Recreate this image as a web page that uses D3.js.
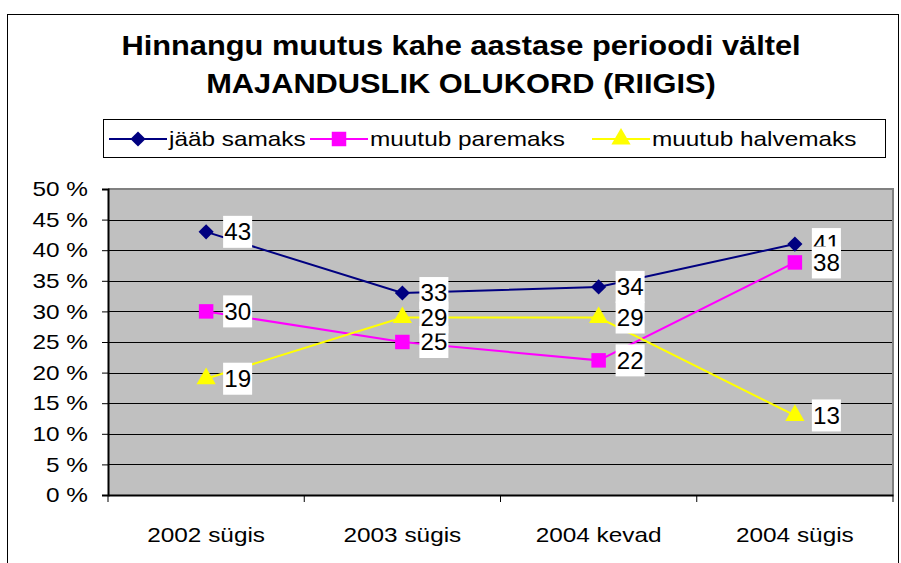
<!DOCTYPE html>
<html>
<head>
<meta charset="utf-8">
<script src="https://cdn.jsdelivr.net/npm/d3@7"></script>
<style>
  body { margin: 0; background: #fff; }
  text { font-family: Arial, "Liberation Sans", sans-serif; }
</style>
</head>
<body>
<div id="chart"></div>
<script>
const categories = ["2002 sügis", "2003 sügis", "2004 kevad", "2004 sügis"];
const seriesNames = ["jääb samaks", "muutub paremaks", "muutub halvemaks"];
const samaks = [43, 33, 34, 41];
const paremaks = [30, 25, 22, 38];
const halvemaks = [19, 29, 29, 13];
const yTicks = [0, 5, 10, 15, 20, 25, 30, 35, 40, 45, 50];
const titleLines = ["Hinnangu muutus kahe aastase perioodi vältel", "MAJANDUSLIK OLUKORD (RIIGIS)"];

const colors = ["#000080", "#FF00FF", "#FFFF00"];
const symbols = [d3.symbolSquare, d3.symbolSquare, d3.symbolTriangle];
const symSizes = [115, 210, 160];
const symRotate = [45, 0, 0];
const series = [samaks, paremaks, halvemaks].map((v, i) => ({
  name: seriesNames[i], values: v, color: colors[i],
  symbol: symbols[i], size: symSizes[i], rot: symRotate[i]
}));

const width = 901, height = 563;
const sx = 1.16; // text in the original is rendered wide

const svg = d3.select("#chart").append("svg")
  .attr("width", width)
  .attr("height", height);

// outer chart border
svg.append("rect")
  .attr("x", 7.5).attr("y", 14.5)
  .attr("width", 891).attr("height", 560)
  .attr("fill", "#fff").attr("stroke", "#000").attr("stroke-width", 1);

// title
svg.append("g").selectAll("text")
  .data(titleLines)
  .join("text")
  .attr("transform", (d, i) => `translate(461, ${55 + i * 38}) scale(1.10, 1)`)
  .attr("text-anchor", "middle")
  .attr("font-size", 28)
  .attr("font-weight", "bold")
  .text(d => d);

// legend
const legend = svg.append("g");
legend.append("rect")
  .attr("x", 103.5).attr("y", 119.5)
  .attr("width", 782).attr("height", 38)
  .attr("fill", "#fff").attr("stroke", "#000");
const legendX = [109, 310, 592];
const legendItems = legend.selectAll("g")
  .data(series)
  .join("g")
  .attr("transform", (d, i) => `translate(${legendX[i]}, 139)`);
legendItems.append("line")
  .attr("x1", 0).attr("x2", 58)
  .attr("stroke", d => d.color).attr("stroke-width", 2);
legendItems.append("path")
  .attr("transform", d => `translate(29,0) rotate(${d.rot})`)
  .attr("d", d => d3.symbol(d.symbol, d.size)())
  .attr("fill", d => d.color);
legendItems.append("text")
  .attr("transform", `translate(60, 0) scale(${sx}, 1)`)
  .attr("dy", "0.35em")
  .attr("font-size", 21)
  .text(d => d.name);

// plot area
const margin = { left: 108, right: 893, top: 189, bottom: 495 };
const x = d3.scaleBand().domain(categories).range([margin.left, margin.right]);
const y = d3.scaleLinear().domain([0, 50]).range([margin.bottom, margin.top]);

svg.append("rect")
  .attr("x", margin.left).attr("y", margin.top)
  .attr("width", margin.right - margin.left).attr("height", margin.bottom - margin.top)
  .attr("fill", "#C0C0C0");

// gridlines
svg.append("g")
  .selectAll("line")
  .data(yTicks.filter(t => t > 0 && t < 50))
  .join("line")
  .attr("x1", margin.left).attr("x2", margin.right)
  .attr("y1", d => Math.round(y(d)) + 0.5).attr("y2", d => Math.round(y(d)) + 0.5)
  .attr("stroke", "#000").attr("stroke-width", 1);

// plot border (top / right gray)
svg.append("path")
  .attr("d", `M${margin.left},${margin.top}H${margin.right}V${margin.bottom}`)
  .attr("fill", "none").attr("stroke", "#808080").attr("stroke-width", 2);

// y axis
const yAxis = svg.append("g")
  .attr("transform", `translate(${margin.left},0)`)
  .call(d3.axisLeft(y).tickValues(yTicks).tickSize(6).tickPadding(14).tickFormat(d => d + " %"));
yAxis.select(".domain").attr("stroke", "#000").attr("stroke-width", 2);
yAxis.selectAll(".tick line").attr("stroke", "#000");
yAxis.selectAll(".tick text")
  .attr("font-size", 21)
  .attr("font-family", "Arial, 'Liberation Sans', sans-serif")
  .attr("fill", "#000")
  .attr("transform", `scale(${sx}, 1)`)
  .attr("x", -20 / sx);

// x axis
const xAxis = svg.append("g")
  .attr("transform", `translate(0,${margin.bottom})`)
  .call(d3.axisBottom(x).tickSize(0).tickPadding(0));
xAxis.select(".domain").attr("stroke", "#000").attr("stroke-width", 2);
xAxis.selectAll(".tick text")
  .attr("font-size", 21)
  .attr("font-family", "Arial, 'Liberation Sans', sans-serif")
  .attr("fill", "#000")
  .attr("y", 47)
  .attr("dy", 0)
  .attr("x", 0)
  .attr("transform", `scale(${sx}, 1)`)
  .attr("text-anchor", "middle");
// category tick marks between bands
svg.append("g")
  .selectAll("line")
  .data(categories.concat(["end"]))
  .join("line")
  .attr("x1", (d, i) => i < categories.length ? x(d) : margin.right)
  .attr("x2", (d, i) => i < categories.length ? x(d) : margin.right)
  .attr("y1", margin.bottom).attr("y2", margin.bottom + 7)
  .attr("stroke", "#000");

const cx = d => x(d) + x.bandwidth() / 2;

// lines
const line = d3.line()
  .x((d, i) => cx(categories[i]))
  .y(d => y(d));
svg.append("g")
  .selectAll("path")
  .data(series)
  .join("path")
  .attr("d", d => line(d.values))
  .attr("fill", "none")
  .attr("stroke", d => d.color)
  .attr("stroke-width", 2);

// markers
series.forEach(s => {
  svg.append("g")
    .selectAll("path")
    .data(s.values)
    .join("path")
    .attr("transform", (d, i) => `translate(${cx(categories[i])},${y(d)}) rotate(${s.rot})`)
    .attr("d", d3.symbol(s.symbol, s.size)())
    .attr("fill", s.color);
});

// data labels
series.forEach(s => {
  const g = svg.append("g")
    .selectAll("g")
    .data(s.values)
    .join("g")
    .attr("transform", (d, i) => `translate(${cx(categories[i]) + 17},${y(d)})`);
  g.append("rect")
    .attr("x", 0).attr("y", -16)
    .attr("width", 29).attr("height", 32)
    .attr("fill", "#fff");
  g.append("text")
    .attr("transform", "translate(14.5,0) scale(1.05,1)")
    .attr("text-anchor", "middle")
    .attr("dy", "0.36em")
    .attr("font-size", 23)
    .text(d => d);
});
</script>
</body>
</html>
